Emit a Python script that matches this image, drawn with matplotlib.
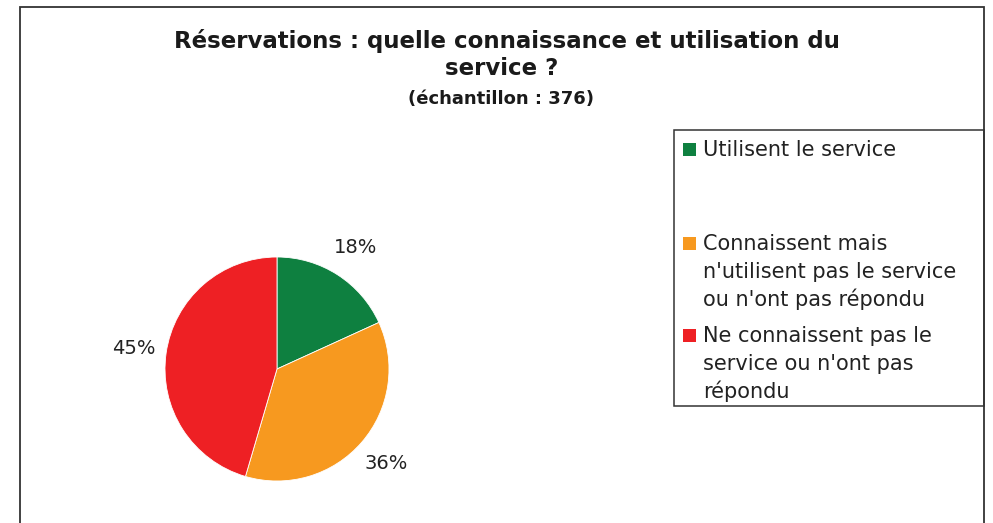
import numpy as np
import matplotlib.pyplot as plt
from matplotlib.patches import Rectangle

# data
labels = ['Utilisent le service',
          "Connaissent mais\nn'utilisent pas le service\nou n'ont pas répondu",
          "Ne connaissent pas le\nservice ou n'ont pas\nrépondu"]
values = [18, 36, 45]
colors = ['#0e8040', '#f7991f', '#ee2024']
title_lines = ['Réservations : quelle connaissance et utilisation du', 'service ?']
subtitle = '(échantillon : 376)'

W, H = 993, 523
plt.rcParams['font.family'] = 'DejaVu Sans'
fig = plt.figure(figsize=(W / 100, H / 100), dpi=100)


def fx(x):
    return x / W


def fy(y):
    return 1 - y / H


# outer frame (bottom edge is cut off)
fig.patches.append(Rectangle((fx(20), fy(540)), fx(984) - fx(20), fy(7) - fy(540),
                             transform=fig.transFigure, fill=False,
                             edgecolor='#333333', linewidth=1.3))

# titles
fig.text(fx(507), fy(41), title_lines[0],
         ha='center', va='center', fontsize=16.5, fontweight='bold', color='#1a1a1a')
fig.text(fx(502), fy(69), title_lines[1],
         ha='center', va='center', fontsize=16.5, fontweight='bold', color='#1a1a1a')
fig.text(fx(501), fy(99), subtitle,
         ha='center', va='center', fontsize=13, fontweight='bold', color='#1a1a1a')

# pie
cx, cy, r = 277, 369, 112
ax = fig.add_axes([fx(cx - r), fy(cy + r), 2 * r / W, 2 * r / H])
wedges, texts = ax.pie(values, colors=colors, startangle=90, counterclock=False,
                       wedgeprops=dict(edgecolor='white', linewidth=0.6))
ax.set_xlim(-1, 1)
ax.set_ylim(-1, 1)

tot = sum(values)
ang = 90.0
for v in values:
    mid = np.deg2rad(ang - v / tot * 180)
    ang -= v / tot * 360
    ax.text(1.29 * np.cos(mid), 1.29 * np.sin(mid), '%d%%' % v,
            ha='center', va='center', fontsize=14, color='#222222')

# legend box
fig.patches.append(Rectangle((fx(674), fy(406)), fx(984) - fx(674), fy(130) - fy(406),
                             transform=fig.transFigure, fill=False,
                             edgecolor='#333333', linewidth=1.1))
entry_y = [149, 243, 335]
for lab, c, y0 in zip(labels, colors, entry_y):
    fig.patches.append(Rectangle((fx(683), fy(y0 + 6.5)), 13 / W, 13 / H,
                                 transform=fig.transFigure, facecolor=c, edgecolor='none'))
    for i, line in enumerate(lab.split('\n')):
        fig.text(fx(703), fy(y0 + i * 28 + 7), line, ha='left', va='baseline',
                 fontsize=15, color='#222222')

plt.savefig('out.png', dpi=100, facecolor='white')
